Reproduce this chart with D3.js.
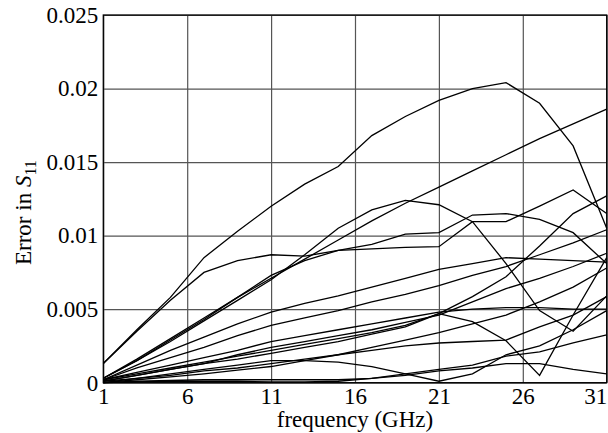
<html>
<head>
<meta charset="utf-8">
<style>
body { margin: 0; background: #fff; }
.grid line { stroke: #555; stroke-width: 1.2; }
.grid path { display: none; }
.axis text, .label {
  font-family: "Liberation Serif", "Times New Roman", Times, serif;
  font-size: 23px;
  fill: #000;
}
.axis path, .axis line { display: none; }
.frame { fill: none; stroke: #000; stroke-width: 1.3; }
.line { fill: none; stroke: #000; stroke-width: 1.3; }
</style>
</head>
<body>
<svg width="608" height="433"></svg>
<script src="https://cdn.jsdelivr.net/npm/d3@7"></script>
<script>

// frequency points (GHz)
var freqs = [1, 3, 5, 7, 9, 11, 13, 15, 17, 19, 21, 23, 25, 27, 29, 31];

// error curves, in units of 1e-3
var s1  = [1.3, 3.6, 5.8, 8.5, 10.3, 12.0, 13.5, 14.7, 16.8, 18.1, 19.2, 20.0, 20.4, 19.0, 16.1, 10.5];
var s2  = [1.3, 3.5, 5.6, 7.5, 8.3, 8.7, 8.6, 9.0, 9.1, 9.2, 9.25, 10.95, 10.95, 12.0, 13.1, 11.5];
var s3  = [0.3, 1.6, 3.0, 4.4, 5.8, 7.1, 8.4, 9.7, 11.0, 12.2, 13.3, 14.4, 15.5, 16.6, 17.6, 18.6];
var s4  = [0.3, 1.5, 2.8, 4.2, 5.6, 7.0, 8.7, 10.5, 11.75, 12.4, 12.1, 10.95, 8.1, 4.9, 3.5, 5.9];
var s5  = [0.2, 0.6, 1.0, 1.4, 1.8, 2.2, 2.6, 3.0, 3.4, 3.9, 4.7, 4.15, 2.85, 0.5, 4.6, 8.5];
var s6  = [0.3, 1.5, 2.9, 4.3, 5.8, 7.3, 8.3, 9.0, 9.4, 10.1, 10.2, 11.4, 11.5, 11.1, 10.2, 8.1];
var s7  = [0.2, 1.2, 2.2, 3.1, 4.0, 4.8, 5.4, 5.9, 6.5, 7.1, 7.7, 8.1, 8.5, 8.4, 8.3, 8.2];
var s8  = [0.2, 1.0, 1.7, 2.4, 3.2, 3.9, 4.4, 4.9, 5.5, 6.0, 6.6, 7.3, 7.9, 8.7, 9.5, 10.4];
var s9  = [0.2, 0.7, 1.2, 1.7, 2.2, 2.8, 3.2, 3.6, 4.0, 4.4, 4.8, 5.0, 5.1, 5.1, 5.0, 5.0];
var s10 = [0.1, 0.5, 0.9, 1.3, 1.6, 2.0, 2.4, 2.8, 3.3, 3.8, 4.7, 5.85, 7.2, 9.3, 11.5, 12.7];
var s11 = [0.1, 0.5, 0.9, 1.3, 1.9, 2.4, 2.8, 3.2, 3.6, 4.1, 4.6, 5.5, 6.4, 7.1, 7.9, 8.8];
var s12 = [0.1, 0.3, 0.5, 0.8, 1.0, 1.3, 1.6, 1.9, 2.2, 2.5, 2.7, 2.8, 2.9, 3.8, 4.6, 5.85];
var s13 = [0.0, 0.3, 0.6, 0.9, 1.2, 1.5, 1.5, 1.4, 1.1, 0.6, 0.1, 0.6, 1.9, 2.5, 3.6, 4.9];
var s14 = [0.0, 0.05, 0.1, 0.1, 0.1, 0.05, 0.05, 0.1, 0.3, 0.5, 0.8, 1.0, 1.3, 1.3, 0.9, 0.6];
var s15 = [0.0, 0.1, 0.15, 0.2, 0.2, 0.2, 0.2, 0.2, 0.3, 0.6, 0.9, 1.2, 1.8, 2.1, 2.7, 3.25];
var s16 = [0.0, 0.2, 0.4, 0.6, 0.85, 1.1, 1.5, 1.9, 2.4, 2.9, 3.4, 4.0, 4.6, 5.5, 6.5, 7.8];

var series = [s1, s2, s3, s4, s5, s6, s7, s8, s9, s10, s11, s12, s13, s14, s15, s16];

var xTicks = [1, 6, 11, 16, 21, 26, 31];
var yTicks = [0, 0.005, 0.01, 0.015, 0.02, 0.025];
var yTickLabels = ["0", "0.005", "0.01", "0.015", "0.02", "0.025"];

var svg = d3.select("svg"),
    margin = {top: 15, right: 1.3, bottom: 50.3, left: 103.3},
    width = +svg.attr("width") - margin.left - margin.right,
    height = +svg.attr("height") - margin.top - margin.bottom;

var x = d3.scaleLinear().domain([1, 31]).range([0, width]);
var y = d3.scaleLinear().domain([0, 0.025]).range([height, 0]);

var g = svg.append("g")
    .attr("transform", "translate(" + margin.left + "," + margin.top + ")");

// grid
g.append("g").attr("class", "grid")
    .call(d3.axisBottom(x).tickValues(xTicks).tickSize(height).tickFormat(""));
g.append("g").attr("class", "grid")
    .call(d3.axisLeft(y).tickValues(yTicks).tickSize(-width).tickFormat(""));

// tick labels
var gx = g.append("g").attr("class", "axis")
    .attr("transform", "translate(0," + height + ")")
    .call(d3.axisBottom(x).tickValues(xTicks).tickSize(0).tickPadding(5).tickFormat(d3.format("d")));
gx.attr("font-family", null).attr("font-size", null);
// last label sits flush with the right edge
gx.selectAll(".tick text")
    .filter(function(d) { return d === 31; })
    .attr("text-anchor", "end")
    .attr("dx", 0);

var gy = g.append("g").attr("class", "axis")
    .call(d3.axisLeft(y).tickValues(yTicks).tickSize(0).tickPadding(5)
      .tickFormat(function(d, i) { return yTickLabels[i]; }));
gy.attr("font-family", null).attr("font-size", null);

// curves
var line = d3.line()
    .x(function(d, i) { return x(freqs[i]); })
    .y(function(d) { return y(d / 1000); });

g.selectAll(".line")
  .data(series)
  .enter().append("path")
    .attr("class", "line")
    .attr("d", line);

g.append("rect")
    .attr("class", "frame")
    .attr("width", width)
    .attr("height", height);

// axis titles
svg.append("text")
    .attr("class", "label")
    .attr("x", margin.left + width / 2)
    .attr("y", 427)
    .attr("text-anchor", "middle")
    .text("frequency (GHz)");

var yl = svg.append("text")
    .attr("class", "label")
    .attr("transform", "translate(31,265) rotate(-90)");
yl.append("tspan").text("Error in ");
yl.append("tspan").attr("font-style", "italic").text("S");
yl.append("tspan").style("font-size", "16px").attr("dy", 5).text("11");

</script>
</body>
</html>
